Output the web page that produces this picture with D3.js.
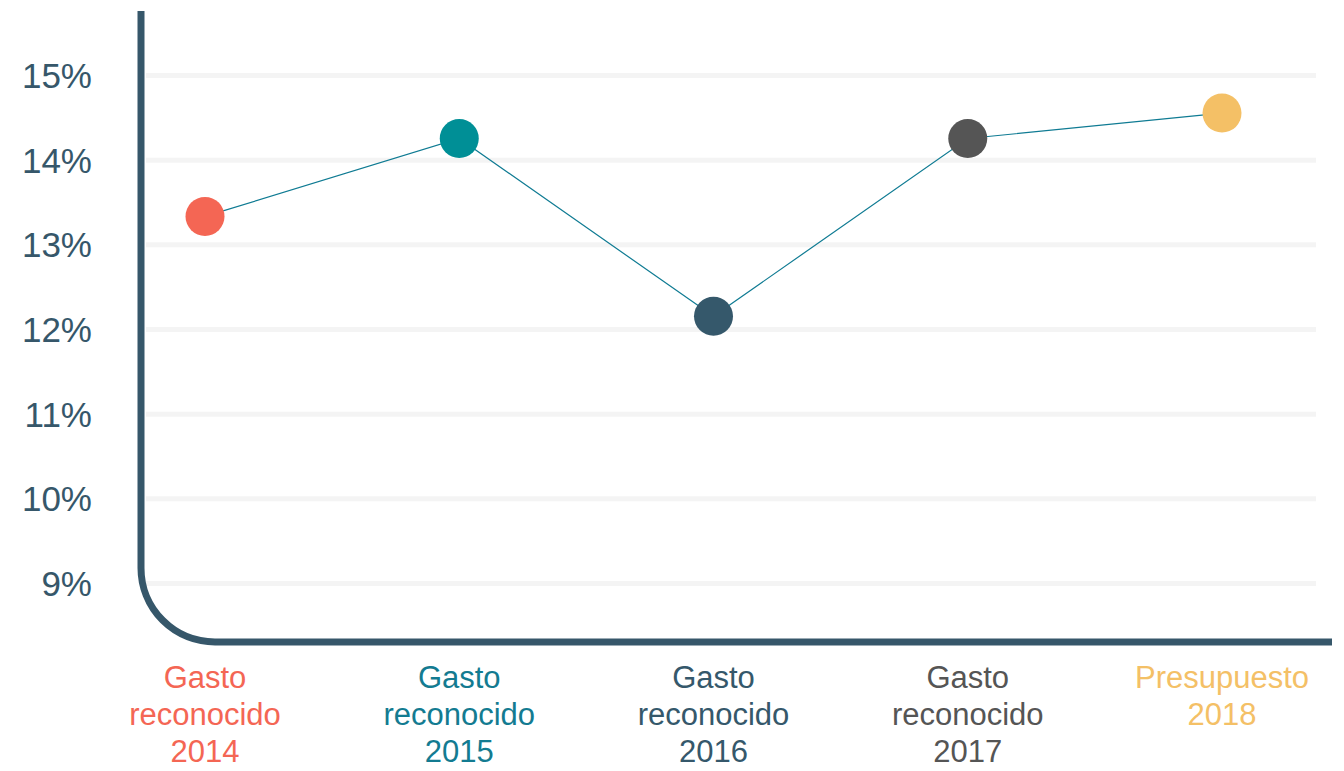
<!DOCTYPE html>
<html>
<head>
<meta charset="utf-8">
<style>
	body { margin: 0; background: #fff; }
	svg text { font-family: "Liberation Sans", Arial, sans-serif; }
	.grid line { stroke: #f4f4f4; stroke-width: 5px; }
	.grid text { fill: #36576a; font-size: 35px; }
</style>
</head>
<body>

<script src="https://cdn.jsdelivr.net/npm/d3@7"></script>

<script>

	// Data
	var categories = ["Gasto reconocido 2014", "Gasto reconocido 2015", "Gasto reconocido 2016", "Gasto reconocido 2017", "Presupuesto 2018"];
	var labelLines = [["Gasto", "reconocido", "2014"], ["Gasto", "reconocido", "2015"], ["Gasto", "reconocido", "2016"], ["Gasto", "reconocido", "2017"], ["Presupuesto", "2018"]];
	var values = [13.33, 14.25, 12.15, 14.25, 14.55];
	var colors = ["#f46654", "#008f96", "#35586b", "#555555", "#f4c066"];
	var labelColors = ["#f46654", "#137b91", "#35586b", "#555555", "#f4c066"];
	var yTicks = [9, 10, 11, 12, 13, 14, 15];

	var width = 1344, height = 771;

	var svg = d3.select("body").append("svg")
		.attr("width", width)
		.attr("height", height);

	// Scales
	var x = d3.scalePoint().domain(categories).range([205, 1222]);
	var y = d3.scaleLinear().domain([9, 15]).range([583, 75]);

	// Gridlines + tick labels
	var gridLeft = 146, gridRight = 1316;
	svg.append("g")
		.attr("class", "grid")
		.attr("transform", "translate(" + gridLeft + ",0)")
		.call(d3.axisLeft(y)
			.tickValues(yTicks)
			.tickSize(-(gridRight - gridLeft))
			.tickPadding(54)
			.tickFormat(function(d) { return d + "%"; }))
		.call(function(g) { g.select(".domain").remove(); })
		.selectAll("text")
			.attr("dy", "0.36em");

	// Rounded L-shaped axis frame
	var axX = 141, axTop = 11, axBottom = 642, axRight = 1332, r = 74;
	svg.append("path")
		.attr("d", "M" + axX + "," + axTop + "V" + (axBottom - r) +
			"A" + r + "," + r + " 0 0 0 " + (axX + r) + "," + axBottom + "H" + axRight)
		.attr("fill", "none")
		.attr("stroke", "#36576a")
		.attr("stroke-width", 7);

	// Line
	var line = d3.line()
		.x(function(d, i) { return x(categories[i]); })
		.y(function(d) { return y(d); });

	svg.append("path")
		.datum(values)
		.attr("d", line)
		.attr("fill", "none")
		.attr("stroke", "#0f7b93")
		.attr("stroke-width", 1.2);

	// Points
	svg.selectAll(".dot")
		.data(values)
		.enter().append("circle")
			.attr("class", "dot")
			.attr("cx", function(d, i) { return x(categories[i]); })
			.attr("cy", function(d) { return y(d); })
			.attr("r", 19.5)
			.attr("fill", function(d, i) { return colors[i]; });

	// Category labels
	var lab = svg.selectAll(".cat")
		.data(categories)
		.enter().append("text")
			.attr("class", "cat")
			.attr("text-anchor", "middle")
			.attr("font-size", "31px")
			.attr("fill", function(d, i) { return labelColors[i]; })
			.attr("transform", function(d) { return "translate(" + x(d) + ",688)"; });

	lab.selectAll("tspan")
		.data(function(d, i) { return labelLines[i]; })
		.enter().append("tspan")
			.attr("x", 0)
			.attr("y", function(d, j) { return j * 37; })
			.text(function(d) { return d; });

</script>

</body>
</html>
